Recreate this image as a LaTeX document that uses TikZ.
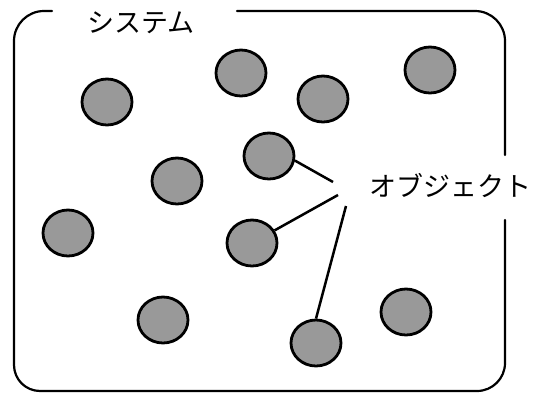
\documentclass[tikz,border=0pt]{standalone}
\usepackage{fontspec}
\newfontfamily\cjk{Noto Sans CJK JP}
\usetikzlibrary{shapes.geometric}
\tikzset{
  obj/.style={ellipse, draw=black, line width=2.8pt, fill=black!40,
    minimum width=50pt, minimum height=46pt, inner sep=0pt},
  frame/.style={line width=2.2pt, line cap=round},
  conn/.style={line width=2.5pt},
  lbl/.style={font=\cjk\fontsize{27}{27}\selectfont, inner sep=0pt}
}
\begin{document}
\begin{tikzpicture}[x=1pt,y=-1pt]
\useasboundingbox (0,0) rectangle (552,394);
% frame
\draw[frame] (52,11) [rounded corners=30pt] -- (14,11) [rounded corners=26pt] -- (14,391)
  [rounded corners=28pt] -- (505,391) [sharp corners] -- (505,220);
\draw[frame] (505,155) [rounded corners=30pt] -- (505,11) [sharp corners] -- (237,11);
% labels
\node[lbl] (sys) at (141,23) {システム};
\node[lbl] (objl) at (450,186) {オブジェクト};
% objects
\node[obj] (c1) at (107,102) {};
\node[obj] (c2) at (241,73) {};
\node[obj] (c3) at (323,99) {};
\node[obj] (c4) at (430,70) {};
\node[obj] (c5) at (177,181) {};
\node[obj] (c6) at (269,156) {};
\node[obj] (c7) at (68,233) {};
\node[obj] (c8) at (252,243) {};
\node[obj] (c9) at (163,320) {};
\node[obj] (c10) at (316,343) {};
\node[obj] (c11) at (406,312) {};
% connectors
\coordinate (e1) at (333,182);
\coordinate (e2) at (338,195);
\coordinate (e3) at (346,206);
\draw[conn] (c6.-10) -- (e1);
\draw[conn] (c8) -- (e2);
\draw[conn] (c10.north) -- (e3);
\end{tikzpicture}
\end{document}
